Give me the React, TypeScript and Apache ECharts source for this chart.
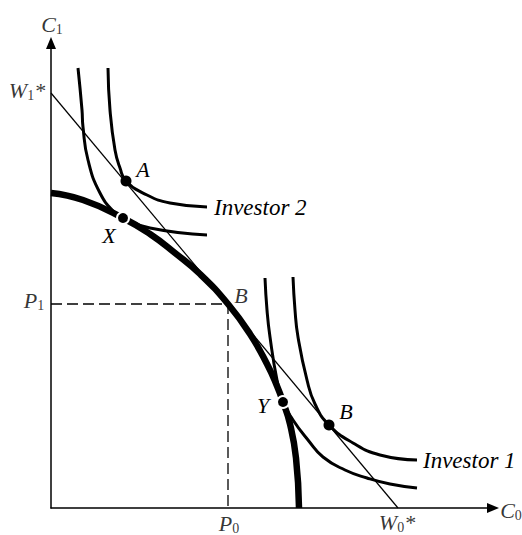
import React, { useEffect, useRef } from "react";
import * as echarts from "echarts";

// Axis extents (units of the diagram)
const xMax = 442;
const yMax = 465;

// Budget (market) line from W1* to W0*
const w1Star = 415;
const w0Star = 347;
const budgetLine = [
  [0, w1Star],
  [w0Star, 0],
];

// Production opportunity frontier (thick curve)
const frontier = [
  [0, 315], [32, 308], [72, 290], [99, 274], [124, 255], [149, 234], [177, 204],
  [199, 174], [216, 144], [226, 122], [232, 106], [239, 84], [245, 50], [248, 0],
];

// Investor 2 indifference curves
const investor2Low = [
  [27, 440], [31, 398], [32, 381], [37, 348], [49, 315], [64, 295], [72, 290], [99, 280], [156, 273],
];
const investor2High = [
  [57, 440], [59, 398], [64, 358], [69, 340], [75, 327], [96, 313], [119, 305], [156, 301],
];

// Investor 1 indifference curves
const investor1Low = [
  [214, 230], [216, 198], [219, 171], [226, 128], [232, 106], [242, 88], [257, 68],
  [272, 51], [294, 38], [316, 30], [339, 24], [366, 20],
];
const investor1High = [
  [242, 231], [244, 198], [247, 171], [256, 128], [264, 104], [278, 83], [302, 65],
  [329, 53], [366, 48],
];

// Key points
const pointA = [75, 327];
const pointX = [72, 290];
const pointB = [177, 204];
const pointY = [232, 106];
const pointB2 = [278, 83];
const p0 = 177;
const p1 = 204;

const FONT = "Liberation Serif";

const rich = {
  m: { fontFamily: FONT, fontStyle: "italic", fontSize: 22, lineHeight: 24, color: "#000", verticalAlign: "middle" },
  s: { fontFamily: FONT, fontSize: 14, lineHeight: 14, padding: [10, 0, 0, 0], color: "#000", verticalAlign: "middle" },
};

const labelItem = (value: number[], text: string, offset: number[]) => ({
  value,
  label: {
    show: true,
    position: "inside",
    formatter: text,
    offset,
    color: "#000",
    textBorderWidth: 0,
    textBorderColor: "transparent",
    rich,
  },
});

const curve = (name: string, data: number[][], width: number, z: number, extra: any = {}) => ({
  type: "line",
  name,
  data,
  symbol: "none",
  smooth: 0.5,
  silent: true,
  lineStyle: { color: "#000", width },
  z,
  ...extra,
});

const endLabel = (text: string, distance: number) => ({
  endLabel: {
    show: true,
    formatter: text,
    distance,
    fontFamily: FONT,
    fontStyle: "italic",
    fontSize: 23,
    color: "#000",
  },
});

const axisCommon = {
  type: "value",
  axisLine: {
    show: true,
    onZero: false,
    symbol: ["none", "triangle"],
    symbolSize: [10, 12],
    lineStyle: { color: "#000", width: 1.5 },
  },
  axisTick: { show: false },
  axisLabel: { show: false },
  splitLine: { show: false },
};

const option = {
  animation: false,
  backgroundColor: "#fff",
  grid: { left: 51, right: 29, top: 43, bottom: 27, containLabel: false },
  xAxis: { ...axisCommon, min: 0, max: xMax },
  yAxis: { ...axisCommon, min: 0, max: yMax },
  series: [
    {
      type: "line",
      data: [[0, p1], [p0, p1], [p0, 0]],
      symbol: "none",
      silent: true,
      lineStyle: { color: "#000", width: 1.3, type: [11, 5] },
      z: 2,
    },
    {
      type: "line",
      data: budgetLine,
      symbol: "none",
      silent: true,
      lineStyle: { color: "#000", width: 1.2 },
      z: 3,
    },
    curve("inv2low", investor2Low, 3, 4),
    curve("inv2high", investor2High, 3, 4, endLabel("Investor 2", 7)),
    curve("inv1low", investor1Low, 3, 4),
    curve("inv1high", investor1High, 3, 4, endLabel("Investor 1", 6)),
    curve("frontier", frontier, 6.5, 5),
    {
      type: "scatter",
      silent: true,
      symbolSize: 12,
      itemStyle: { color: "#000", opacity: 1, borderColor: "#fff", borderWidth: 2 },
      z: 6,
      data: [
        { ...labelItem(pointA, "{m|A}", [17, -12]), itemStyle: { borderWidth: 0 }, symbolSize: 11 },
        labelItem(pointX, "{m|X}", [-14, 17]),
        labelItem(pointY, "{m|Y}", [-20, 3]),
        { ...labelItem(pointB2, "{m|B}", [17, -14]), itemStyle: { borderWidth: 0 }, symbolSize: 11 },
      ],
    },
    {
      type: "scatter",
      silent: true,
      symbolSize: 1,
      itemStyle: { color: "rgba(0,0,0,0)" },
      z: 7,
      data: [
        labelItem(pointB, "{m|B}", [13, -9]),
        labelItem([0, yMax], "{m|C}{s|1}", [1, -19]),
        labelItem([0, w1Star], "{m|W}{s|1}{m|*}", [-24, -3]),
        labelItem([0, p1], "{m|P}{s|1}", [-17, -4]),
        labelItem([p0, 0], "{m|P}{s|0}", [1, 15]),
        labelItem([w0Star, 0], "{m|W}{s|0}{m|*}", [-1, 14]),
        labelItem([xMax, 0], "{m|C}{s|0}", [18, 2]),
      ],
    },
  ],
};

export default function App() {
  const ref = useRef<HTMLDivElement>(null);
  useEffect(() => {
    if (!ref.current) return;
    const chart = echarts.init(ref.current, null, { renderer: "svg" });
    chart.setOption(option as any);
    return () => chart.dispose();
  }, []);
  return (
    <div
      ref={ref}
      style={{ position: "fixed", left: 0, top: 0, width: 522, height: 535, background: "#fff" }}
    />
  );
}
